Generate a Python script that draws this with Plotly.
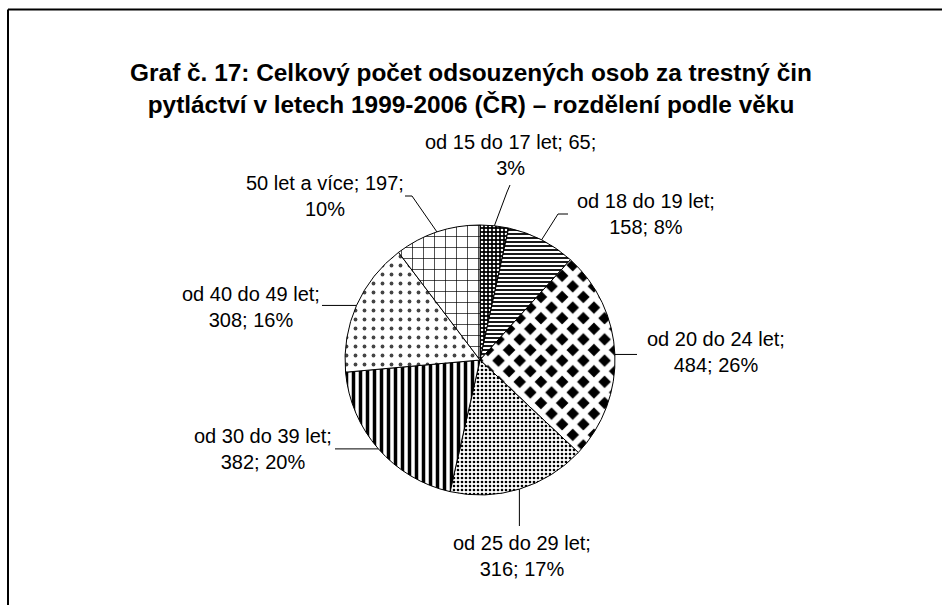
import numpy as np
import plotly.graph_objects as go

# ---- data ----
categories = ["od 15 do 17 let", "od 18 do 19 let", "od 20 do 24 let", "od 25 do 29 let",
              "od 30 do 39 let", "od 40 do 49 let", "50 let a více"]
values = [65, 158, 484, 316, 382, 308, 197]
percent_labels = ["3%", "8%", "26%", "17%", "20%", "16%", "10%"]
label_texts = [
    "od 15 do 17 let; 65;<br>3%",
    "od 18 do 19 let;<br>158; 8%",
    "od 20 do 24 let;<br>484; 26%",
    "od 25 do 29 let;<br>316; 17%",
    "od 30 do 39 let;<br>382; 20%",
    "od 40 do 49 let;<br>308; 16%",
    "50 let a více; 197;<br>10%",
]
title_text = ("Graf č. 17: Celkový počet odsouzených osob za trestný čin<br>"
              "pytláctví v letech 1999-2006 (ČR) – rozdělení podle věku")

# ---- style / layout ----
W, H = 942, 605
CX, CY, R = 480, 360, 135  # pie centre and radius in pixels
FONT = "Liberation Sans, Arial, sans-serif"

pat_shape = [".", "-", "x", ".", "|", ".", "+"]
pat_bg = ["black", "white", "black", "white", "white", "white", "white"]
pat_fg = ["white", "black", "white", "black", "black", "#444444", "black"]
pat_size = [4, 4, 15, 4, 7, 9, 11]
pat_solid = [0.35, 0.45, 0.65, 0.35, 0.5, 0.14, 0.12]

# label placement (pixel centres) and leader line elbows/ends (pixels)
label_pos = [(510, 155), (646, 214), (716, 352), (522, 556), (263, 449), (251, 307), (325, 196)]
leader_pts = [
    [(507, 192), (510, 185)],
    [(558, 214), (568, 214)],
    [(637, None)],
    [(None, 526)],
    [(335, None)],
    [(322, None)],
    [(412, 196), (405, 196)],
]


def px(x):
    return x / W


def py(y):
    return 1 - y / H


fig = go.Figure()
fig.add_trace(go.Pie(
    labels=categories,
    values=values,
    sort=False,
    direction="clockwise",
    rotation=0,
    textinfo="none",
    hoverinfo="label+value+percent",
    marker=dict(
        colors=pat_bg,
        line=dict(color="black", width=1),
        pattern=dict(shape=pat_shape, bgcolor=pat_bg, fgcolor=pat_fg,
                     size=pat_size, solidity=pat_solid, fillmode="replace"),
    ),
    domain=dict(x=[px(CX - R), px(CX + R)], y=[py(CY + R), py(CY - R)]),
    showlegend=False,
))

shapes = []
annotations = []
total = float(np.sum(values))
cum = np.cumsum([0] + values)
for i, v in enumerate(values):
    mid = (cum[i] + v / 2) / total * 2 * np.pi
    ex = CX + R * np.sin(mid)
    ey = CY - R * np.cos(mid)
    pts = [(ex, ey)]
    for (qx, qy) in leader_pts[i]:
        pts.append((qx if qx is not None else pts[-1][0], qy if qy is not None else pts[-1][1]))
    for (a, b) in zip(pts[:-1], pts[1:]):
        shapes.append(dict(type="line", xref="paper", yref="paper",
                           x0=px(a[0]), y0=py(a[1]), x1=px(b[0]), y1=py(b[1]),
                           line=dict(color="black", width=1)))
    lx, ly = label_pos[i]
    annotations.append(dict(text=label_texts[i], xref="paper", yref="paper",
                            x=px(lx), y=py(ly), xanchor="center", yanchor="middle",
                            showarrow=False, align="center",
                            font=dict(family=FONT, size=20, color="black")))

# outer frame (top and left edges visible)
shapes.append(dict(type="line", xref="paper", yref="paper", x0=px(8), y0=py(9.5), x1=1, y1=py(9.5),
                   line=dict(color="black", width=2)))
shapes.append(dict(type="line", xref="paper", yref="paper", x0=px(8), y0=py(9.5), x1=px(8), y1=0,
                   line=dict(color="black", width=2)))

fig.update_layout(
    width=W, height=H,
    margin=dict(l=0, r=0, t=0, b=0),
    paper_bgcolor="white", plot_bgcolor="white",
    title=dict(text="<b>" + title_text + "</b>", x=0.5, xanchor="center",
               y=py(81), yanchor="middle", yref="paper",
               font=dict(family=FONT, size=24.4, color="black")),
    shapes=shapes,
    annotations=annotations,
)

fig.write_html("out.html", config={"displayModeBar": False},
               post_script="document.body.style.margin='0px';")
